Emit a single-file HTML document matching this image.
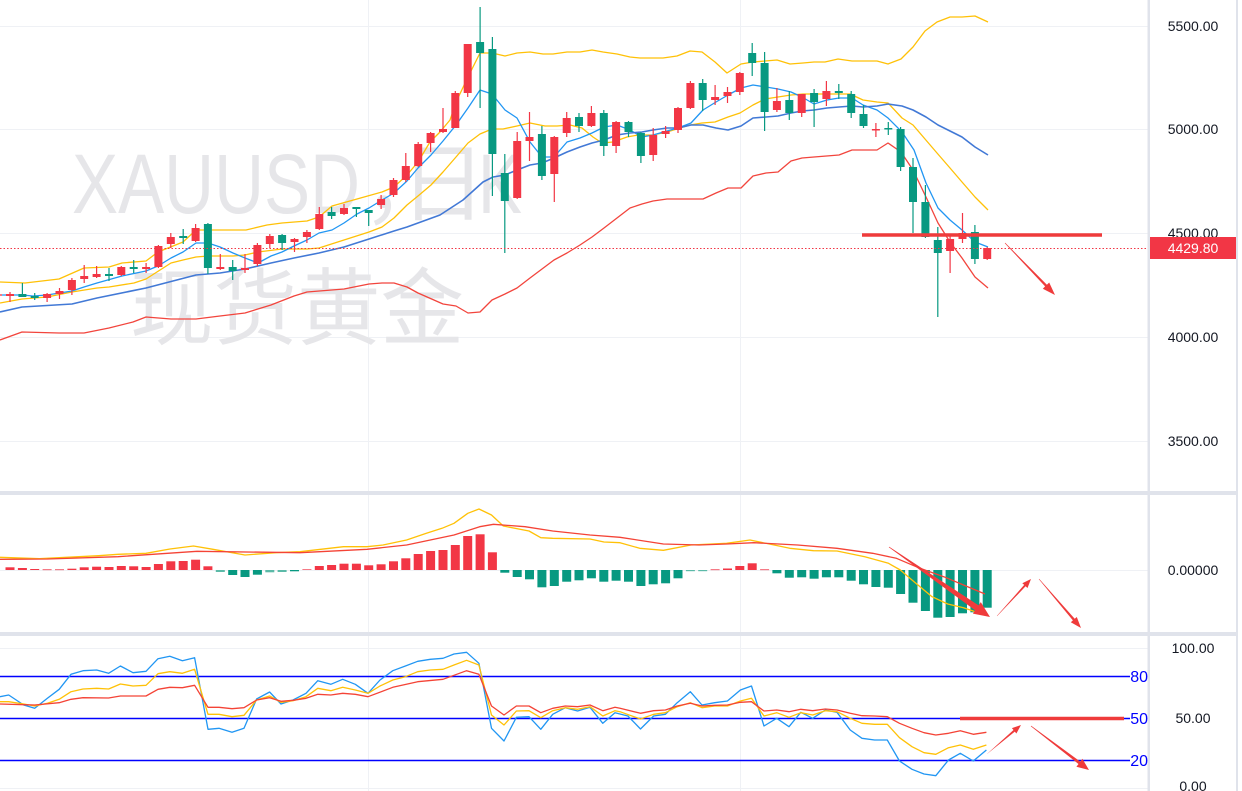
<!DOCTYPE html>
<html><head><meta charset="utf-8"><style>
html,body{margin:0;padding:0;background:#fff;width:1242px;height:791px;overflow:hidden}
svg{display:block}
.r{fill:#F23645}.g{fill:#089981}.lr{fill:#f57a86}.lg{fill:#5cbaa8}
.ax{font-family:"Liberation Sans",sans-serif;font-size:14px;fill:#131722;text-anchor:middle}
.lv{font-family:"Liberation Sans",sans-serif;font-size:16px;fill:#0000ff;text-anchor:end}
</style></head><body>
<svg width="1242" height="791" viewBox="0 0 1242 791" xmlns="http://www.w3.org/2000/svg">
<rect width="1242" height="791" fill="#fff"/>
<!-- grid -->
<g stroke="#eff1f5" stroke-width="1">
<line x1="0" y1="26.5" x2="1148" y2="26.5"/><line x1="0" y1="129.5" x2="1148" y2="129.5"/><line x1="0" y1="233.5" x2="1148" y2="233.5"/><line x1="0" y1="337.5" x2="1148" y2="337.5"/><line x1="0" y1="441.5" x2="1148" y2="441.5"/>
<line x1="0" y1="570.5" x2="1148" y2="570.5"/><line x1="0" y1="648.5" x2="1148" y2="648.5"/><line x1="0" y1="788.5" x2="1148" y2="788.5"/>
<line x1="368.5" y1="0" x2="368.5" y2="791"/><line x1="740.5" y1="0" x2="740.5" y2="791"/>
</g>
<!-- watermark -->
<g fill="#e6e6e9">
<text x="72" y="213" font-family="Liberation Sans, sans-serif" font-size="84" textLength="288" lengthAdjust="spacingAndGlyphs">XAUUSD</text>
<text x="362" y="216" font-family="Noto Sans CJK SC, sans-serif" font-size="88">，</text>
<text x="400" y="214" font-family="Noto Sans CJK SC, sans-serif" font-size="86">日</text>
<text x="478" y="213" font-family="Liberation Sans, sans-serif" font-size="84" textLength="44" lengthAdjust="spacingAndGlyphs">K</text>
<text x="130" y="338" font-family="Liberation Sans, Noto Sans CJK SC, sans-serif" font-size="84" textLength="334" lengthAdjust="spacingAndGlyphs">现货黄金</text>
</g>
<!-- main lines -->
<g fill="none" stroke-width="1.3" stroke-linejoin="round">
<polyline stroke="#FFC107" points="0,282 25,283 59,279 84,268 109,267 122,263 146,261 158,252 183,242 196,230 246,230 267,225 282,223 307,221 319,217 332,206 357,199 382,192 394,187 407,175 418,162 430,142 440,132 450,120 457,100 468,77 480,53 492,53 505,56 517,53 530,52 543,54 553,54 567,52 580,52 592,50 603,52 617,54 630,57 640,58 663,58 677,56 690,51 702,52 715,62 727,73 741,64 753,62 765,61 777,60 790,64 803,63 814,62 825,62 838,59 852,61 877,61 888,64 901,59 913,47 925,31 937,22 950,17 962,17 975,16 988,22"/>
<polyline stroke="#FFC107" points="0,303 22,299 47,297 72,292 97,288 109,287 134,283 146,279 171,263 183,260 196,257 208,256 233,256 245,255 258,252 282,249 307,249 319,248 344,240 369,232 382,227 394,218 407,205 418,196 431,185 443,172 456,157 468,143 480,134 492,129 503,129 517,126 530,123 545,126 557,126 570,125 582,128 593,137 602,143 613,142 627,137 638,135 653,135 667,132 680,128 690,125 702,123 715,122 728,117 740,113 753,105 765,99 778,97 791,95 803,94 825,94 850,94 863,100 877,102 888,103 902,118 913,125 925,139 937,153 950,168 962,182 975,197 988,210"/>
<polyline stroke="#2196F3" points="0,295 22,295 33,296 47,295 72,291 84,287 97,283 122,276 146,271 158,266 171,258 183,252 196,243 208,243 220,247 233,253 245,258 258,263 271,256 282,252 294,246 307,240 319,233 332,230 344,223 357,214 369,208 382,200 394,193 407,181 418,168 431,155 443,141 456,125 468,108 480,90 492,94 505,110 517,118 530,142 542,157 554,157 567,142 580,138 592,133 604,127 617,125 630,130 642,137 653,135 667,131 678,128 691,123 703,110 716,102 728,95 741,88 753,85 766,87 778,89 791,92 802,97 814,104 827,100 839,98 852,98 863,105 877,110 888,118 902,132 914,150 926,183 938,208 950,220 962,230 975,242 988,247"/>
<polyline stroke="#4279d6" stroke-width="1.6" points="0,312 22,307 72,304 97,298 146,288 196,275 220,273 245,269 271,263 294,258 319,253 344,247 369,239 394,231 407,227 440,215 463,200 483,182 493,177 505,175 517,170 530,165 542,163 554,158 567,152 580,147 592,143 604,140 617,135 630,133 642,132 653,130 667,128 678,128 691,125 703,125 716,128 728,130 741,126 753,118 766,117 778,116 791,113 802,111 814,110 827,108 839,107 852,106 863,107 877,106 888,104 902,106 913,110 926,117 938,125 950,131 962,137 975,147 988,155"/>
<polyline stroke="#f2453d" points="0,340 22,332 59,333 84,333 109,328 133,322 146,317 171,319 196,319 220,316 245,313 271,305 294,296 307,292 344,289 369,284 382,283 394,283 407,287 418,293 443,304 456,306 468,313 480,312 492,300 505,294 517,288 530,278 542,269 554,260 567,253 580,245 592,237 604,228 617,218 630,208 642,204 653,201 667,199 703,199 716,193 728,188 741,188 753,176 766,173 778,172 791,161 802,158 814,157 839,155 852,150 877,150 888,143 901,152 913,170 926,197 938,223 950,242 962,258 975,277 988,288"/>
</g>
<!-- candles -->
<g>
<rect class="lr" x="-6" y="294" width="8" height="2"/>
<rect class="r" x="9.4" y="292" width="1.2" height="10"/><rect class="r" x="6" y="294" width="8" height="2"/>
<rect class="g" x="21.8" y="283" width="1.2" height="14"/><rect class="g" x="18.4" y="294" width="8" height="3"/>
<rect class="g" x="34.1" y="293" width="1.2" height="7"/><rect class="g" x="30.7" y="296" width="8" height="2"/>
<rect class="r" x="46.5" y="293" width="1.2" height="9"/><rect class="r" x="43.1" y="294" width="8" height="4"/>
<rect class="r" x="58.9" y="288" width="1.2" height="11"/><rect class="r" x="55.5" y="291" width="8" height="3"/>
<rect class="r" x="71.3" y="278" width="1.2" height="17"/><rect class="r" x="67.9" y="280" width="8" height="10"/>
<rect class="r" x="83.6" y="265" width="1.2" height="18"/><rect class="r" x="80.2" y="276" width="8" height="3"/>
<rect class="r" x="96" y="266" width="1.2" height="12"/><rect class="r" x="92.6" y="274" width="8" height="3"/>
<rect class="g" x="108.4" y="268" width="1.2" height="13"/><rect class="g" x="105" y="274" width="8" height="2"/>
<rect class="r" x="120.7" y="266" width="1.2" height="10"/><rect class="r" x="117.3" y="267" width="8" height="8"/>
<rect class="g" x="133.1" y="260" width="1.2" height="13"/><rect class="g" x="129.7" y="267" width="8" height="2"/>
<rect class="r" x="145.5" y="263" width="1.2" height="10"/><rect class="r" x="142.1" y="267" width="8" height="2"/>
<rect class="r" x="157.8" y="245" width="1.2" height="23"/><rect class="r" x="154.4" y="246" width="8" height="21"/>
<rect class="r" x="170.2" y="233" width="1.2" height="15"/><rect class="r" x="166.8" y="237" width="8" height="7"/>
<rect class="g" x="182.6" y="229" width="1.2" height="15"/><rect class="g" x="179.2" y="236" width="8" height="2"/>
<rect class="r" x="195" y="224" width="1.2" height="18"/><rect class="r" x="191.6" y="228" width="8" height="13"/>
<rect class="g" x="207.3" y="223" width="1.2" height="51"/><rect class="g" x="203.9" y="224" width="8" height="44"/>
<rect class="r" x="219.7" y="254" width="1.2" height="16"/><rect class="r" x="216.3" y="267" width="8" height="2"/>
<rect class="g" x="232.1" y="260" width="1.2" height="20"/><rect class="g" x="228.7" y="267" width="8" height="4"/>
<rect class="r" x="244.4" y="254" width="1.2" height="19"/><rect class="r" x="241" y="268" width="8" height="2"/>
<rect class="r" x="256.8" y="243" width="1.2" height="23"/><rect class="r" x="253.4" y="245" width="8" height="19"/>
<rect class="r" x="269.2" y="234" width="1.2" height="14"/><rect class="r" x="265.8" y="236" width="8" height="8"/>
<rect class="g" x="281.5" y="234" width="1.2" height="16"/><rect class="g" x="278.1" y="235" width="8" height="8"/>
<rect class="r" x="293.9" y="238" width="1.2" height="14"/><rect class="r" x="290.5" y="239" width="8" height="3"/>
<rect class="r" x="306.3" y="230" width="1.2" height="13"/><rect class="r" x="302.9" y="232" width="8" height="5"/>
<rect class="r" x="318.7" y="207" width="1.2" height="23"/><rect class="r" x="315.3" y="214" width="8" height="15"/>
<rect class="g" x="331" y="207" width="1.2" height="12"/><rect class="g" x="327.6" y="212" width="8" height="4"/>
<rect class="r" x="343.4" y="204" width="1.2" height="11"/><rect class="r" x="340" y="208" width="8" height="6"/>
<rect class="g" x="355.8" y="207" width="1.2" height="10"/><rect class="g" x="352.4" y="207" width="8" height="2"/>
<rect class="g" x="368.1" y="210" width="1.2" height="16"/><rect class="g" x="364.7" y="210" width="8" height="3"/>
<rect class="r" x="380.5" y="195" width="1.2" height="14"/><rect class="r" x="377.1" y="199" width="8" height="6"/>
<rect class="r" x="392.9" y="178" width="1.2" height="19"/><rect class="r" x="389.5" y="180" width="8" height="15"/>
<rect class="r" x="405.2" y="153" width="1.2" height="29"/><rect class="r" x="401.8" y="166" width="8" height="14"/>
<rect class="r" x="417.6" y="142" width="1.2" height="25"/><rect class="r" x="414.2" y="144" width="8" height="22"/>
<rect class="r" x="430" y="132" width="1.2" height="20"/><rect class="r" x="426.6" y="133" width="8" height="10"/>
<rect class="r" x="442.4" y="108" width="1.2" height="25"/><rect class="r" x="439" y="129" width="8" height="3"/>
<rect class="r" x="454.7" y="91" width="1.2" height="37"/><rect class="r" x="451.3" y="93" width="8" height="35"/>
<rect class="r" x="467.1" y="44" width="1.2" height="53"/><rect class="r" x="463.7" y="44" width="8" height="49"/>
<rect class="g" x="479.5" y="7" width="1.2" height="101"/><rect class="g" x="476.1" y="42" width="8" height="11"/>
<rect class="g" x="491.8" y="37" width="1.2" height="159"/><rect class="g" x="488.4" y="49" width="8" height="105"/>
<rect class="g" x="504.2" y="154" width="1.2" height="99"/><rect class="g" x="500.8" y="173" width="8" height="28"/>
<rect class="r" x="516.6" y="132" width="1.2" height="67"/><rect class="r" x="513.2" y="141" width="8" height="57"/>
<rect class="r" x="528.9" y="112" width="1.2" height="49"/><rect class="r" x="525.5" y="137" width="8" height="4"/>
<rect class="g" x="541.3" y="126" width="1.2" height="54"/><rect class="g" x="537.9" y="134" width="8" height="42"/>
<rect class="r" x="553.7" y="136" width="1.2" height="66"/><rect class="r" x="550.3" y="137" width="8" height="37"/>
<rect class="r" x="566.1" y="112" width="1.2" height="25"/><rect class="r" x="562.7" y="118" width="8" height="15"/>
<rect class="g" x="578.4" y="113" width="1.2" height="19"/><rect class="g" x="575" y="117" width="8" height="9"/>
<rect class="r" x="590.8" y="106" width="1.2" height="21"/><rect class="r" x="587.4" y="113" width="8" height="13"/>
<rect class="g" x="603.2" y="110" width="1.2" height="46"/><rect class="g" x="599.8" y="113" width="8" height="33"/>
<rect class="r" x="615.5" y="121" width="1.2" height="32"/><rect class="r" x="612.1" y="122" width="8" height="24"/>
<rect class="g" x="627.9" y="121" width="1.2" height="16"/><rect class="g" x="624.5" y="122" width="8" height="10"/>
<rect class="g" x="640.3" y="132" width="1.2" height="31"/><rect class="g" x="636.9" y="133" width="8" height="23"/>
<rect class="r" x="652.6" y="128" width="1.2" height="33"/><rect class="r" x="649.2" y="135" width="8" height="20"/>
<rect class="r" x="665" y="126" width="1.2" height="12"/><rect class="r" x="661.6" y="131" width="8" height="3"/>
<rect class="r" x="677.4" y="107" width="1.2" height="26"/><rect class="r" x="674" y="108" width="8" height="22"/>
<rect class="r" x="689.8" y="81" width="1.2" height="28"/><rect class="r" x="686.4" y="83" width="8" height="25"/>
<rect class="g" x="702.1" y="79" width="1.2" height="32"/><rect class="g" x="698.7" y="83" width="8" height="17"/>
<rect class="r" x="714.5" y="85" width="1.2" height="20"/><rect class="r" x="711.1" y="97" width="8" height="3"/>
<rect class="r" x="726.9" y="87" width="1.2" height="16"/><rect class="r" x="723.5" y="92" width="8" height="4"/>
<rect class="r" x="739.2" y="72" width="1.2" height="23"/><rect class="r" x="735.8" y="73" width="8" height="19"/>
<rect class="g" x="751.6" y="43" width="1.2" height="33"/><rect class="g" x="748.2" y="53" width="8" height="10"/>
<rect class="g" x="764" y="52" width="1.2" height="79"/><rect class="g" x="760.6" y="63" width="8" height="49"/>
<rect class="r" x="776.3" y="88" width="1.2" height="24"/><rect class="r" x="772.9" y="101" width="8" height="9"/>
<rect class="g" x="788.7" y="91" width="1.2" height="29"/><rect class="g" x="785.3" y="100" width="8" height="13"/>
<rect class="r" x="801.1" y="94" width="1.2" height="23"/><rect class="r" x="797.7" y="94" width="8" height="19"/>
<rect class="g" x="813.5" y="89" width="1.2" height="38"/><rect class="g" x="810.1" y="93" width="8" height="9"/>
<rect class="r" x="825.8" y="81" width="1.2" height="25"/><rect class="r" x="822.4" y="91" width="8" height="8"/>
<rect class="g" x="838.2" y="84" width="1.2" height="15"/><rect class="g" x="834.8" y="91" width="8" height="2"/>
<rect class="g" x="850.6" y="91" width="1.2" height="27"/><rect class="g" x="847.2" y="94" width="8" height="19"/>
<rect class="g" x="862.9" y="105" width="1.2" height="23"/><rect class="g" x="859.5" y="114" width="8" height="12"/>
<rect class="r" x="875.3" y="123" width="1.2" height="14"/><rect class="r" x="871.9" y="129" width="8" height="1.5"/>
<rect class="g" x="887.7" y="122" width="1.2" height="13"/><rect class="g" x="884.3" y="128" width="8" height="1.5"/>
<rect class="g" x="900" y="127" width="1.2" height="44"/><rect class="g" x="896.6" y="129" width="8" height="38"/>
<rect class="g" x="912.4" y="158" width="1.2" height="75"/><rect class="g" x="909" y="167" width="8" height="35"/>
<rect class="g" x="924.8" y="185" width="1.2" height="53"/><rect class="g" x="921.4" y="202" width="8" height="35"/>
<rect class="g" x="937.2" y="227" width="1.2" height="90"/><rect class="g" x="933.8" y="240" width="8" height="13"/>
<rect class="r" x="949.5" y="235" width="1.2" height="38"/><rect class="r" x="946.1" y="239" width="8" height="12"/>
<rect class="r" x="961.9" y="213" width="1.2" height="30"/><rect class="r" x="958.5" y="233" width="8" height="6"/>
<rect class="g" x="974.3" y="225" width="1.2" height="39"/><rect class="g" x="970.9" y="232" width="8" height="27"/>
<rect class="r" x="986.6" y="247" width="1.2" height="13"/><rect class="r" x="983.2" y="248" width="8" height="11"/>
</g>
<!-- price line -->
<line x1="0" y1="248.5" x2="1148" y2="248.5" stroke="#F23645" stroke-width="1" stroke-dasharray="1.5 2"/>
<!-- main annotations -->
<line x1="862" y1="235" x2="1102" y2="235" stroke="#ef3b3b" stroke-width="3.5"/>
<polygon fill="#ef3b3b" points="1004.8,243.2 1045.1,286.4 1042.8,288.7 1055,295 1049.2,282.5 1046.9,284.8 1005.2,242.8"/>

<!-- MACD histogram -->
<g>
<rect class="r" x="5.5" y="567.3" width="9" height="2.7"/>
<rect class="r" x="17.9" y="568" width="9" height="2"/>
<rect class="r" x="30.2" y="569" width="9" height="1"/>
<rect class="lr" x="42.6" y="569" width="9" height="1.2"/>
<rect class="lr" x="55" y="569" width="9" height="1.2"/>
<rect class="r" x="67.4" y="568.7" width="9" height="1.3"/>
<rect class="r" x="79.7" y="567.3" width="9" height="2.7"/>
<rect class="r" x="92.1" y="566.7" width="9" height="3.3"/>
<rect class="r" x="104.5" y="567" width="9" height="3"/>
<rect class="r" x="116.8" y="566" width="9" height="4"/>
<rect class="r" x="129.2" y="566.3" width="9" height="3.7"/>
<rect class="r" x="141.6" y="567" width="9" height="3"/>
<rect class="r" x="153.9" y="564" width="9" height="6"/>
<rect class="r" x="166.3" y="561.3" width="9" height="8.7"/>
<rect class="r" x="178.7" y="561" width="9" height="9"/>
<rect class="r" x="191.1" y="559.7" width="9" height="10.3"/>
<rect class="r" x="203.4" y="566.3" width="9" height="3.7"/>
<rect class="lg" x="215.8" y="570" width="9" height="2"/>
<rect class="g" x="228.2" y="570" width="9" height="5"/>
<rect class="g" x="240.5" y="570" width="9" height="7"/>
<rect class="g" x="252.9" y="570" width="9" height="4.7"/>
<rect class="lg" x="265.3" y="570" width="9" height="2.3"/>
<rect class="lg" x="277.6" y="570" width="9" height="2"/>
<rect class="g" x="290" y="570" width="9" height="1.3"/>
<rect class="lr" x="302.4" y="569" width="9" height="1"/>
<rect class="r" x="314.8" y="566" width="9" height="4"/>
<rect class="r" x="327.1" y="565" width="9" height="5"/>
<rect class="r" x="339.5" y="563.7" width="9" height="6.3"/>
<rect class="r" x="351.9" y="563.7" width="9" height="6.3"/>
<rect class="r" x="364.2" y="565.3" width="9" height="4.7"/>
<rect class="r" x="376.6" y="564.3" width="9" height="5.7"/>
<rect class="r" x="389" y="561.3" width="9" height="8.7"/>
<rect class="r" x="401.3" y="558.3" width="9" height="11.7"/>
<rect class="r" x="413.7" y="554" width="9" height="16"/>
<rect class="r" x="426.1" y="551" width="9" height="19"/>
<rect class="r" x="438.5" y="550" width="9" height="20"/>
<rect class="r" x="450.8" y="545" width="9" height="25"/>
<rect class="r" x="463.2" y="536" width="9" height="34"/>
<rect class="r" x="475.6" y="534.3" width="9" height="35.7"/>
<rect class="r" x="487.9" y="552.3" width="9" height="17.7"/>
<rect class="g" x="500.3" y="570" width="9" height="2.7"/>
<rect class="g" x="512.7" y="570" width="9" height="7"/>
<rect class="g" x="525" y="570" width="9" height="9.3"/>
<rect class="g" x="537.4" y="570" width="9" height="17.3"/>
<rect class="g" x="549.8" y="570" width="9" height="16"/>
<rect class="g" x="562.2" y="570" width="9" height="11.7"/>
<rect class="g" x="574.5" y="570" width="9" height="10.3"/>
<rect class="g" x="586.9" y="570" width="9" height="8.3"/>
<rect class="g" x="599.3" y="570" width="9" height="11.7"/>
<rect class="g" x="611.6" y="570" width="9" height="10.7"/>
<rect class="g" x="624" y="570" width="9" height="11.7"/>
<rect class="g" x="636.4" y="570" width="9" height="16"/>
<rect class="g" x="648.7" y="570" width="9" height="14.3"/>
<rect class="g" x="661.1" y="570" width="9" height="13.3"/>
<rect class="g" x="673.5" y="570" width="9" height="8.3"/>
<rect class="lg" x="685.9" y="570" width="9" height="1.2"/>
<rect class="lg" x="698.2" y="570" width="9" height="1.2"/>
<rect class="lr" x="710.6" y="569" width="9" height="1.2"/>
<rect class="r" x="723" y="568.5" width="9" height="1.5"/>
<rect class="r" x="735.3" y="566" width="9" height="4"/>
<rect class="r" x="747.7" y="563.3" width="9" height="6.7"/>
<rect class="lr" x="760.1" y="569" width="9" height="1.2"/>
<rect class="g" x="772.4" y="570" width="9" height="3.3"/>
<rect class="g" x="784.8" y="570" width="9" height="7.7"/>
<rect class="g" x="797.2" y="570" width="9" height="7.3"/>
<rect class="g" x="809.6" y="570" width="9" height="8.7"/>
<rect class="g" x="821.9" y="570" width="9" height="7.3"/>
<rect class="g" x="834.3" y="570" width="9" height="7.3"/>
<rect class="g" x="846.7" y="570" width="9" height="10.7"/>
<rect class="g" x="859" y="570" width="9" height="14.3"/>
<rect class="g" x="871.4" y="570" width="9" height="17"/>
<rect class="g" x="883.8" y="570" width="9" height="17.7"/>
<rect class="g" x="896.1" y="570" width="9" height="24"/>
<rect class="g" x="908.5" y="570" width="9" height="32.7"/>
<rect class="g" x="920.9" y="570" width="9" height="41"/>
<rect class="g" x="933.3" y="570" width="9" height="47.7"/>
<rect class="g" x="945.6" y="570" width="9" height="47"/>
<rect class="g" x="958" y="570" width="9" height="43.3"/>
<rect class="g" x="970.4" y="570" width="9" height="42.3"/>
<rect class="g" x="982.7" y="570" width="9" height="37.7"/>
</g>
<g fill="none" stroke-width="1.3" stroke-linejoin="round">
<polyline stroke="#FFC107" points="0,557.3 39.5,558.7 79,556.7 98.7,555.7 118,554.3 146,553.3 170,549 193.5,546 213,549.3 245,555 276,552.7 300,551.7 343.5,546.7 367,546.7 383,545 406.6,540 426.4,533.3 442,528.3 454,523.3 467.8,513.3 479,509 491.5,515 503.3,526 529,531 540.8,537.7 552.7,538.3 590,539 604,542 620,542.7 639.7,548.3 663.4,550.3 691,545 726.6,543.3 750,540 789.8,548.3 813.4,550.7 837,551 864.8,556.7 888.5,563.3 900.3,570 912,580 932,596.7 947.7,604 963.5,607.7 975.3,611.7"/>
<polyline stroke="#F44336" points="0,559.3 47.4,559 118,556.7 197,551.3 300,552.7 367,549.3 406.6,545 454,535 479.7,526.7 493.5,524.3 525,526.7 552.7,531 590,535 620,537.3 663.4,544 699,545 726.6,544 754,542.7 797.6,545 837,548.3 872.7,553.3 896.4,558.3 920,568.3 943.7,576.7 963.5,585 985,594"/>
</g>
<g fill="#ef3b3b">
<polygon points="888.8,547.2 975.1,610.3 972.9,613.6 990,617 980.8,602.1 978.6,605.4 889.2,546.8"/>
<polygon points="997.1,616.1 1025.6,586.3 1027.5,588 1031,579 1022.3,583.2 1024.2,584.9 996.9,615.9"/>
<polygon points="1038.8,579.1 1072.9,620.4 1070.8,622.2 1081,628 1076.8,617 1074.7,618.8 1039.2,578.9"/>
</g>

<!-- KDJ -->
<g stroke="#0000ff" stroke-width="1.5">
<line x1="0" y1="676.5" x2="1130" y2="676.5"/>
<line x1="0" y1="718.5" x2="1130" y2="718.5"/>
<line x1="0" y1="760.5" x2="1130" y2="760.5"/>
</g>
<g fill="none" stroke-width="1.3" stroke-linejoin="round">
<polyline stroke="#2196F3" points="0,696.7 8.7,695 23.7,705 34.7,708.3 47.4,698.3 59.2,689.3 71,674.3 83,670.7 96.7,670 108.6,673.3 120.4,666 133,672.7 146,671.3 158,658.7 169.8,656.3 182.4,660.7 194.6,657.7 208,729.3 219,728.3 232,732.3 244,728.3 256.6,699 269.6,692 281,704 293,700 306,693.3 317.8,680.7 330.8,684.3 342.7,679.3 355.3,684.3 368,693.3 380,680 392.8,670.7 405.4,666 417.7,661.3 430.3,659.3 443,658.3 454,654 466.6,652.3 478.9,663.3 491.5,728.3 504,741 516.4,717.3 529,716.7 540.8,729.3 552.7,714.3 565.3,707.7 577.6,711 590,707.3 602.8,723.3 615,712.7 627.9,716 640.5,729 653.6,716 665.4,714.3 677.2,702.7 690.3,691.7 702,705 714.7,702.7 727.4,701 740.4,690 751.5,686 764,726 776.7,718.3 789,726.7 800.8,712.3 812.7,718.3 825.3,710 837,712.3 850.2,730 862,738.3 874.6,740 887.3,740 899.5,761 912,769.3 924,774 935.8,775.7 948.5,760 960.3,753.3 973.3,761 986.4,750"/>
<polyline stroke="#FFC107" points="0,701.7 8.7,701.7 23.7,704 34.7,706 47.4,703.3 59.2,699.3 71,691.7 83,689 96.7,688.3 108.6,689 120.4,684 133,686 146,685.3 158,673.7 169.8,671.7 182.4,673.3 194.6,669.3 208,714.3 219,714.3 232,716.7 244,715.3 256.6,700 269.6,696 281,702.3 293,700.7 306,696.7 317.8,688.3 330.8,690.7 342.7,687.3 355.3,690 368,693.3 380,686 392.8,680 405.4,676.7 417.7,671.7 430.3,670 443,669.3 454,665 466.6,660.3 478.9,665 491.5,715 504,725 516.4,711 529,710.7 540.8,717.7 552.7,710.7 565.3,707.7 577.6,709.3 590,706.7 602.8,716 615,710.7 620,711.7 640.5,719 653.6,714.3 665.4,712.7 677.2,706.7 690.3,702.7 702,707.7 714.7,706 727.4,706 740.4,701 751.5,698.3 764,716 776.7,712.7 789,717.3 800.8,712.7 812.7,715 825.3,710.7 837,711.7 850.2,718.3 862,723.3 874.6,724.3 887.3,724.3 899.5,737.7 912,746.7 924,752.7 935.8,754.3 948.5,747.7 960.3,745 973.3,749.3 986.4,745"/>
<polyline stroke="#F44336" points="0,704 23.7,704.7 34.7,705 59.2,702.7 71,699.3 83,697.7 108.6,698 120.4,696 146,696 158,689.3 169.8,687.3 182.4,687.7 194.6,685.3 208,707.3 219,707.3 232,708.7 244,707.7 256.6,700 269.6,697.7 281,701.3 293,700.3 306,698.3 317.8,694.3 330.8,695 342.7,693.3 355.3,694.3 368,696.7 392.8,687.3 417.7,681.7 443,679.3 466.6,670.7 478.9,674.3 491.5,706 504,715 516.4,706 529,706 540.8,712.7 552.7,708.3 565.3,706 577.6,706.7 590,705 602.8,710.7 615,707.3 620,708.3 640.5,713.3 653.6,710.7 665.4,710 677.2,706 690.3,703.3 702,706 714.7,705.3 727.4,705 740.4,702.3 751.5,701.7 764,711 776.7,710 789,711.7 800.8,709.3 812.7,710.7 825.3,709 837,710 850.2,713.3 862,715.7 874.6,716 887.3,716.7 899.5,723.3 912,728.3 924,732.7 935.8,735 948.5,733.3 960.3,730.7 973.3,734.3 986.4,732.3"/>
</g>
<line x1="960" y1="718.5" x2="1124" y2="718.5" stroke="#ef3b3b" stroke-width="3.5"/>
<g fill="#ef3b3b">
<polygon points="986.9,754.1 1014.8,731.6 1016.4,733.5 1021,725 1011.9,728.1 1013.5,730 987.1,753.9"/>
<polygon points="1030.8,726.2 1078.5,764 1076.4,766.8 1089,770 1082.4,758.8 1080.3,761.6 1031.2,725.8"/>
</g>
<text class="lv" x="1148" y="682">80</text>
<text class="lv" x="1148" y="724">50</text>
<text class="lv" x="1148" y="766">20</text>

<!-- separators / axis borders -->
<rect x="0" y="491" width="1238" height="4" fill="#e0e3eb"/>
<rect x="0" y="632" width="1238" height="4" fill="#e0e3eb"/>
<rect x="1147.5" y="0" width="2.5" height="791" fill="#e0e3eb"/>
<rect x="1236" y="0" width="2" height="791" fill="#e0e3eb"/>

<!-- axis labels -->
<text class="ax" x="1193" y="31">5500.00</text>
<text class="ax" x="1193" y="134">5000.00</text>
<text class="ax" x="1193" y="238">4500.00</text>
<text class="ax" x="1193" y="342">4000.00</text>
<text class="ax" x="1193" y="446">3500.00</text>
<rect x="1150" y="237" width="86" height="22" fill="#F23645"/>
<text class="ax" x="1193" y="253" style="fill:#fff">4429.80</text>
<text class="ax" x="1193" y="575">0.00000</text>
<text class="ax" x="1193" y="653">100.00</text>
<text class="ax" x="1193" y="723">50.00</text>
<text class="ax" x="1193" y="791">0.00</text>
</svg>
</body></html>
